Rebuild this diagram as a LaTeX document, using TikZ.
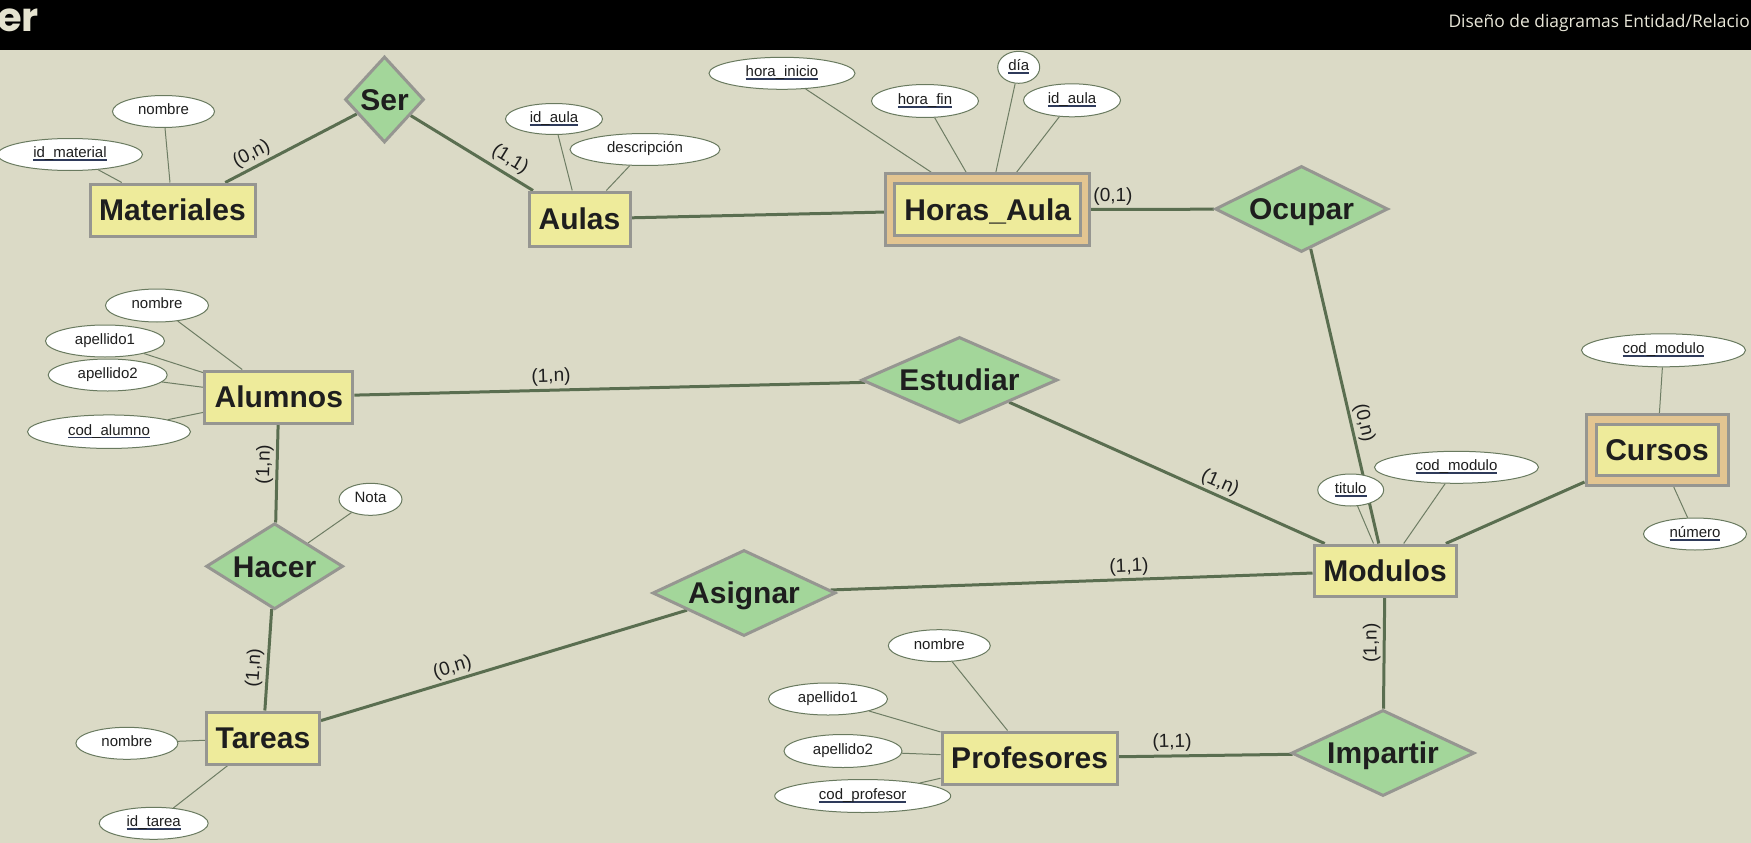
\documentclass[tikz,border=0pt]{standalone}
\usepackage{fontspec}
\setmainfont{Liberation Sans}
\newfontfamily\logofont{Poppins}
\newfontfamily\hdrfont{Open Sans}
\usetikzlibrary{shapes.geometric}
\definecolor{bgc}{RGB}{219,218,198}
\definecolor{entfill}{RGB}{238,235,155}
\definecolor{weakfill}{RGB}{227,197,145}
\definecolor{relfill}{RGB}{163,214,154}
\definecolor{bordc}{RGB}{150,150,145}
\definecolor{linec}{RGB}{90,110,80}
\definecolor{attrline}{RGB}{110,125,100}
\definecolor{attrbord}{RGB}{105,122,95}
\definecolor{txt}{RGB}{30,30,30}
\definecolor{keyc}{RGB}{46,58,90}
\definecolor{logoc}{RGB}{229,227,208}
\definecolor{hdrtxt}{RGB}{232,230,216}
\pgfdeclarelayer{back}
\pgfdeclarelayer{conn}
\pgfsetlayers{back,conn,main}
\newcommand\keyu[1]{\setbox0=\hbox{#1}\rlap{\textcolor{keyc}{\rule[-3.2pt]{\wd0}{1.6pt}}}\box0}
\tikzset{
  entity/.style={rectangle, draw=bordc, line width=3pt, fill=entfill, inner sep=0pt, text=txt,
     font=\fontsize{30}{36}\selectfont\bfseries, text height=21.5pt, text depth=0pt, minimum height=52pt},
  weakout/.style={rectangle, draw=bordc, line width=3pt, fill=weakfill, inner sep=0pt},
  rel/.style={diamond, aspect=1, draw=bordc, line width=3pt, fill=relfill, inner sep=0pt, text=txt,
     font=\fontsize{30}{36}\selectfont\bfseries, text height=21.5pt, text depth=0pt, minimum height=86pt},
  attr/.style={ellipse, draw=attrbord, line width=1pt, fill=white, inner sep=0pt, text=txt,
     font=\fontsize{15}{18}\selectfont, text height=10.7pt, text depth=4pt, minimum height=32pt},
  card/.style={inner sep=0pt, text=txt, font=\fontsize{19}{22}\selectfont},
  link/.style={draw=linec, line width=3pt},
  aline/.style={draw=attrline, line width=1pt},
}
\begin{document}
\begin{tikzpicture}[x=1pt,y=-1pt]
\useasboundingbox (0,0) rectangle (1751,843);
\begin{pgfonlayer}{back}
\fill[bgc] (0,0) rectangle (1751,843);
\fill[black] (0,0) rectangle (1751,50);
\end{pgfonlayer}
\node[anchor=base west, inner sep=0pt, text=logoc, font=\logofont\bfseries\fontsize{40}{44}\selectfont] (logo) at (-3,32) {er};
\node[anchor=base east, inner sep=0pt, text=hdrtxt, font=\hdrfont\fontsize{17.4}{21}\selectfont] (title) at (1750,27.3) {Diseño de diagramas Entidad/Relacio};

% entities
\node[entity, minimum width=165pt] (Materiales) at (172.5,210) {Materiales};
\node[entity, minimum width=101pt, minimum height=54pt] (Aulas) at (579.5,219) {Aulas};
\node[weakout, minimum width=204pt, minimum height=72pt] (HA) at (987.7,209.7) {};
\node[entity, minimum width=186pt] (HAin) at (987.7,209.7) {Horas\_Aula};
\node[entity, minimum width=148pt] (Alumnos) at (278.8,397) {Alumnos};
\node[entity, minimum width=113pt] (Tareas) at (263,738) {Tareas};
\node[entity, minimum width=175pt] (Profesores) at (1029.6,758) {Profesores};
\node[entity, minimum width=142pt, minimum height=51pt] (Modulos) at (1385,570.5) {Modulos};
\node[weakout, minimum width=142pt, minimum height=71pt] (Cursos) at (1657,450) {};
\node[entity, minimum width=122pt, minimum height=51pt] (Cursosin) at (1657,450) {Cursos};

% relationships
\node[rel, minimum width=79pt] (Ser) at (384.5,99.5) {\makebox[0pt]{Ser}};
\node[rel, minimum width=173pt] (Ocupar) at (1301.5,209) {\makebox[0pt]{Ocupar}};
\node[rel, minimum width=196pt] (Estudiar) at (959.5,380) {\makebox[0pt]{Estudiar}};
\node[rel, minimum width=137pt] (Hacer) at (274.6,566.3) {\makebox[0pt]{Hacer}};
\node[rel, minimum width=183pt] (Asignar) at (744,593) {\makebox[0pt]{Asignar}};
\node[rel, minimum width=183pt] (Impartir) at (1383,753) {\makebox[0pt]{Impartir}};

% attributes
\node[attr, minimum width=102pt] (mnombre) at (163.5,111.5) {nombre};
\node[attr, minimum width=145pt] (mid) at (70,154.5) {\keyu{id\_material}};
\node[attr, minimum width=97pt, minimum height=31pt] (aid) at (554,119) {\keyu{id\_aula}};
\node[attr, minimum width=150pt] (adesc) at (645,149.5) {descripción};
\node[attr, minimum width=146pt] (hini) at (782,73.3) {\keyu{hora\_inicio}};
\node[attr, minimum width=107pt, minimum height=33pt] (hfin) at (925,101) {\keyu{hora\_fin}};
\node[attr, minimum width=42pt] (hdia) at (1018.7,67.3) {\keyu{día}};
\node[attr, minimum width=97pt, minimum height=33pt] (haula) at (1072,100.3) {\keyu{id\_aula}};
\node[attr, minimum width=103pt, minimum height=33pt] (alnombre) at (157,305.5) {nombre};
\node[attr, minimum width=119pt] (alap1) at (105,341) {apellido1};
\node[attr, minimum width=119pt] (alap2) at (107.7,375) {apellido2};
\node[attr, minimum width=163pt, minimum height=33.5pt] (alcod) at (109,431.7) {\keyu{cod\_alumno}};
\node[attr, minimum width=63pt] (nota) at (370.5,499.3) {Nota};
\node[attr, minimum width=102pt] (tnombre) at (126.9,743.3) {nombre};
\node[attr, minimum width=109pt] (tid) at (153.7,823.3) {\keyu{id\_tarea}};
\node[attr, minimum width=102pt] (pnombre) at (939.3,645.7) {nombre};
\node[attr, minimum width=119pt] (pap1) at (828,699) {apellido1};
\node[attr, minimum width=118pt, minimum height=33pt] (pap2) at (843,751) {apellido2};
\node[attr, minimum width=176pt, minimum height=33pt] (pcod) at (862.7,796) {\keyu{cod\_profesor}};
\node[attr, minimum width=66pt] (motit) at (1350.7,490) {\keyu{titulo}};
\node[attr, minimum width=164pt] (mocod) at (1456.5,467.3) {\keyu{cod\_modulo}};
\node[attr, minimum width=164pt, minimum height=33pt] (ccod) at (1663.5,350.3) {\keyu{cod\_modulo}};
\node[attr, minimum width=103pt] (cnum) at (1695,534) {\keyu{número}};

% cardinalities
\node[card, rotate=27.5] (l1) at (251.6,154) {(0,n)};
\node[card, rotate=-31.5] (l2) at (510,159.7) {(1,1)};
\node[card] (l3) at (1113,196.5) {(0,1)};
\node[card, rotate=-76.9] (l4) at (1364,423) {(0,n)};
\node[card, rotate=1.4] (l5) at (551,377) {(1,n)};
\node[card, rotate=-24.1] (l6) at (1220,483) {(1,n)};
\node[card, rotate=88.6] (l7) at (264.6,464.5) {(1,n)};
\node[card, rotate=86.1] (l8) at (254.5,668) {(1,n)};
\node[card, rotate=16.8] (l9) at (452.5,668) {(0,n)};
\node[card, rotate=2] (l10) at (1129,567) {(1,1)};
\node[card, rotate=90] (l11) at (1371.6,643) {(1,n)};
\node[card, rotate=0.9] (l12) at (1172,742.5) {(1,1)};

\begin{pgfonlayer}{conn}
\draw[link] (Materiales) -- (Ser);
\draw[link] (Ser) -- (Aulas);
\draw[link] (Aulas) -- (HA);
\draw[link] (HA) -- (Ocupar);
\draw[link] (Ocupar) -- (Modulos);
\draw[link] (Alumnos) -- (Estudiar);
\draw[link] (Estudiar) -- (Modulos);
\draw[link] (Alumnos) -- (Hacer);
\draw[link] (Hacer) -- (Tareas);
\draw[link] (Tareas) -- (Asignar);
\draw[link] (Asignar) -- (Modulos);
\draw[link] (Modulos) -- (Impartir);
\draw[link] (Profesores) -- (Impartir);
\draw[link] (Modulos) -- (Cursos);
\draw[aline] (mnombre) -- (Materiales);
\draw[aline] (mid) -- (Materiales);
\draw[aline] (aid) -- (Aulas);
\draw[aline] (adesc) -- (Aulas);
\draw[aline] (hini) -- (HA);
\draw[aline] (hfin) -- (HA);
\draw[aline] (hdia) -- (HA);
\draw[aline] (haula) -- (HA);
\draw[aline] (alnombre) -- (Alumnos);
\draw[aline] (alap1) -- (Alumnos);
\draw[aline] (alap2) -- (Alumnos);
\draw[aline] (alcod) -- (Alumnos);
\draw[aline] (nota) -- (Hacer);
\draw[aline] (tnombre) -- (Tareas);
\draw[aline] (tid) -- (Tareas);
\draw[aline] (pnombre) -- (Profesores);
\draw[aline] (pap1) -- (Profesores);
\draw[aline] (pap2) -- (Profesores);
\draw[aline] (pcod) -- (Profesores);
\draw[aline] (motit) -- (Modulos);
\draw[aline] (mocod) -- (Modulos);
\draw[aline] (ccod) -- (Cursos);
\draw[aline] (cnum) -- (Cursos);
\end{pgfonlayer}
\end{tikzpicture}
\end{document}
